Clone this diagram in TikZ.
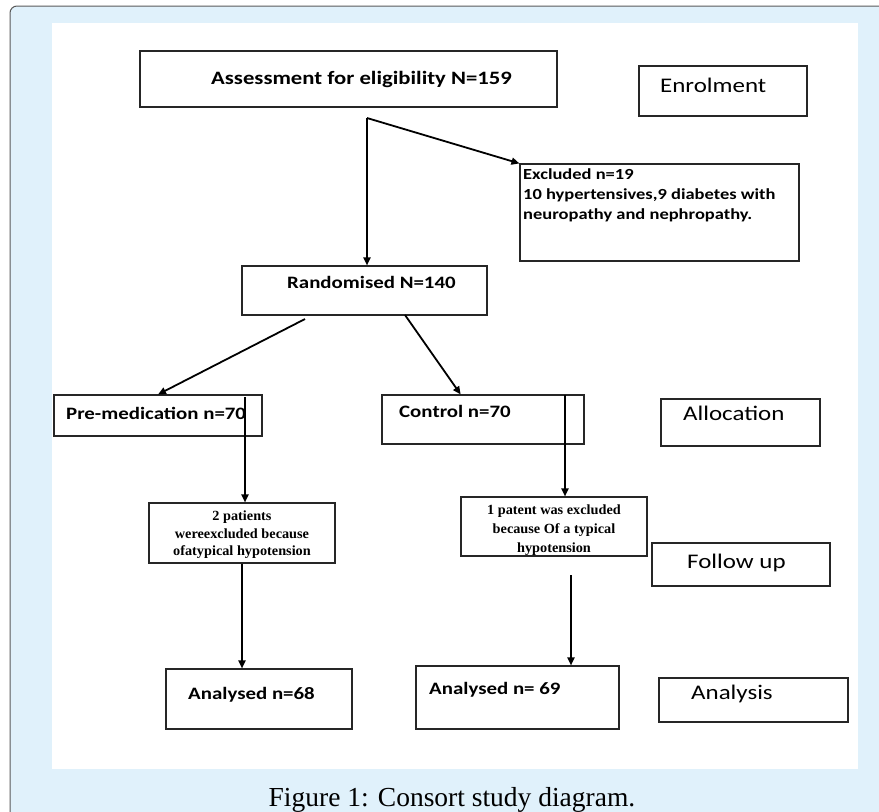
\documentclass[tikz,border=0pt]{standalone}
\usepackage{fontspec}
\usetikzlibrary{arrows.meta,calc}
\newfontfamily\fcarl{Carlito}[FakeStretch=1.2]
\newfontfamily\fser{Liberation Serif}[FakeStretch=1.02]
\newfontfamily\fcap{Liberation Serif}
\definecolor{bgblue}{RGB}{224,241,251}
\definecolor{framegray}{RGB}{90,90,90}
\tikzset{
  box/.style={draw=black!85, line width=1.1pt, fill=white, inner sep=0pt},
  arr/.style={draw=black, line width=1.8pt, -{Triangle[length=8pt,width=7pt]}},
  lbl/.style={inner sep=0pt, anchor=west},
  bigb/.style={font=\fcarl\bfseries\fontsize{18.9}{20}\selectfont},
  midb/.style={font=\fcarl\bfseries\fontsize{17.4}{19}\selectfont},
  smlb/.style={font=\fcarl\bfseries\fontsize{15.4}{20}\selectfont},
  side/.style={font=\fcarl\fontsize{20.8}{22}\selectfont},
  serb/.style={inner sep=0pt, align=center}
}
\begin{document}
\begin{tikzpicture}[x=1pt,y=-1pt]
\useasboundingbox (0,0) rectangle (879,812);
\draw[draw=framegray, line width=1pt, fill=bgblue, rounded corners=7pt] (10,6) rectangle (900,840);
\fill[white] (52,23) rectangle (858,769);

% boxes
\node[box, minimum width=417pt, minimum height=56pt] (assess) at (348.5,79) {};
\node[box, minimum width=168pt, minimum height=50pt] (enrol) at (723,91) {};
\node[box, minimum width=279pt, minimum height=97pt] (excl) at (659.5,212.5) {};
\node[box, minimum width=245pt, minimum height=49pt] (rand) at (364.5,290.5) {};
\node[box, minimum width=208pt, minimum height=41pt] (premed) at (158,415.5) {};
\node[box, minimum width=202pt, minimum height=49pt] (control) at (483,419.5) {};
\node[box, minimum width=159pt, minimum height=47pt] (alloc) at (740.5,422.5) {};
\node[box, minimum width=186pt, minimum height=60pt] (ex1) at (242,533) {};
\node[box, minimum width=186pt, minimum height=59pt] (ex2) at (554,526.5) {};
\node[box, minimum width=178pt, minimum height=43pt] (follow) at (741,564.5) {};
\node[box, minimum width=186pt, minimum height=60pt] (an68) at (259,699) {};
\node[box, minimum width=203pt, minimum height=63pt] (an69) at (517.5,697.5) {};
\node[box, minimum width=189pt, minimum height=44pt] (analysis) at (753.5,700) {};

% texts
\node[lbl, bigb] (assessT) at (211,79) {Assessment for eligibility N=159};
\node[lbl, side] (enrolT) at (660,85) {Enrolment};
\node[lbl, smlb, anchor=north west, align=left] (exclT) at (523,168) {Excluded n=19\\10 hypertensives,9 diabetes with\\neuropathy and nephropathy.};
\node[lbl, midb] (randT) at (287,282) {Randomised N=140};
\node[lbl, midb] (premedT) at (66,413) {Pre-medication n=70};
\node[lbl, midb] (controlT) at (399,411) {Control n=70};
\node[lbl, side] (allocT) at (683,413) {Allocation};
\node[serb, font=\fser\bfseries\fontsize{14}{17.5}\selectfont] (ex1T) at (242,535) {2 patients\\wereexcluded because\\ofatypical hypotension};
\node[serb, font=\fser\bfseries\fontsize{14}{19}\selectfont] (ex2T) at (554,530) {1 patent was excluded\\because Of a typical\\hypotension};
\node[lbl, side] (followT) at (687,563) {Follow up};
\node[lbl, midb] (an68T) at (188,695) {Analysed n=68};
\node[lbl, midb] (an69T) at (429,690) {Analysed n= 69};
\node[lbl, side] (analysisT) at (691,694) {Analysis};
\node[inner sep=0pt, anchor=base, font=\fcap\fontsize{27.5}{30}\selectfont] (caption) at (452,806) {Figure 1: Consort study diagram.};

% connectors
\coordinate (a0) at (367,118);
\draw[arr] (a0) -- (a0 |- rand.north);
\draw[arr] (a0) -- (excl.north west);
\coordinate (r1) at (305,319);
\draw[arr] (r1) -- (premed.north);
\coordinate (r2) at (405,315);
\draw[arr] (r2) -- ($(control.north west)!0.39!(control.north east)$);
\coordinate (p1) at (245,397);
\draw[arr] (p1) -- (p1 |- ex1.north);
\coordinate (c1) at (565,395);
\draw[arr] (c1) -- (c1 |- ex2.north);
\draw[arr] (ex1.south) -- (ex1.south |- an68.north);
\coordinate (c2) at (571,575);
\draw[arr] (c2) -- (c2 |- an69.north);
\end{tikzpicture}
\end{document}
